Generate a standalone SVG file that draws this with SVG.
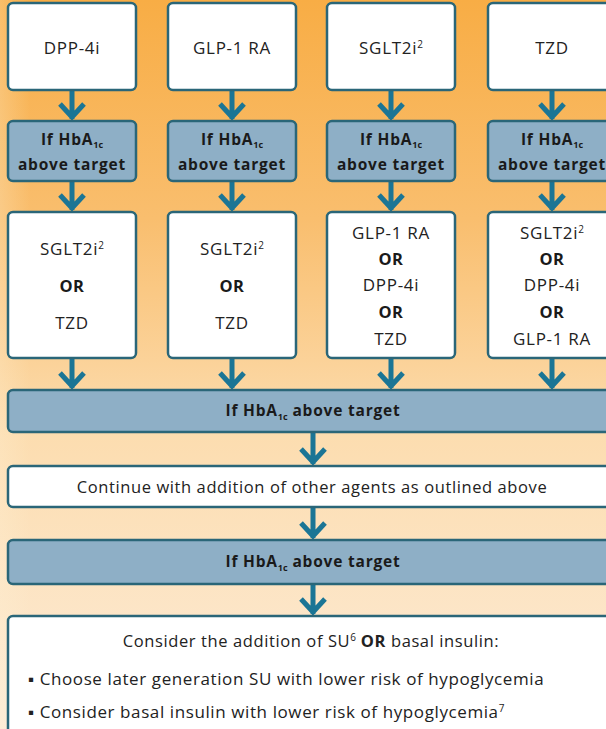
<svg xmlns="http://www.w3.org/2000/svg" width="606" height="729" viewBox="0 0 606 729">
  <defs>
    <linearGradient id="bg" x1="0" y1="0" x2="0" y2="1">
      <stop offset="0" stop-color="#F8AD45"/>
      <stop offset="0.3" stop-color="#F9BE6E"/>
      <stop offset="0.6" stop-color="#FCDDB0"/>
      <stop offset="1" stop-color="#FDEBD6"/>
    </linearGradient>
    <linearGradient id="edge" x1="0" y1="0" x2="1" y2="0">
      <stop offset="0" stop-color="#FFF3D8" stop-opacity="0.25"/>
      <stop offset="0.05" stop-color="#FFF3D8" stop-opacity="0"/>
    </linearGradient>
    <style>
      .white { fill: #FFFFFF; stroke: #2A6678; stroke-width: 2.5; }
      .blue { fill: #8EAFC6; stroke: #2A6678; stroke-width: 2.5; }
      .t { font-family: "Open Sans", "Liberation Sans", sans-serif; font-size: 17px; letter-spacing: 0.7px; fill: #222222; text-anchor: middle; }
      .m { font-family: "Open Sans", "Liberation Sans", sans-serif; font-size: 16.5px; letter-spacing: 0.6px; fill: #222222; text-anchor: middle; }
      .b { font-family: "Open Sans", "Liberation Sans", sans-serif; font-weight: 700; font-size: 15.5px; letter-spacing: 0.8px; fill: #1A1A1A; text-anchor: middle; }
      .o { font-family: "Open Sans", "Liberation Sans", sans-serif; font-weight: 700; font-size: 16.5px; letter-spacing: 0.6px; fill: #1A1A1A; text-anchor: middle; }
      .l { font-family: "Open Sans", "Liberation Sans", sans-serif; font-size: 17px; letter-spacing: 0.6px; fill: #222222; }
      .sub { font-size: 9px; letter-spacing: 0; }
      .sup { font-size: 10px; letter-spacing: 0; }
      .arrow { fill: none; stroke: #1B7595; stroke-width: 5; }
    </style>
  </defs>

  <!-- background -->
  <rect x="0" y="0" width="606" height="729" fill="url(#bg)"/>
  <rect x="0" y="0" width="606" height="729" fill="url(#edge)"/>

  <!-- connectors -->
  <g id="connectors" class="arrow">
    <!-- top row to first check -->
    <path d="M72 90V119M60 104L72 117L84 104"/>
    <path d="M232 90V119M220 104L232 117L244 104"/>
    <path d="M391 90V119M379 104L391 117L403 104"/>
    <path d="M552 90V119M540 104L552 117L564 104"/>
    <!-- first check to second-line options -->
    <path d="M72 181V210M60 195L72 208L84 195"/>
    <path d="M232 181V210M220 195L232 208L244 195"/>
    <path d="M391 181V210M379 195L391 208L403 195"/>
    <path d="M552 181V210M540 195L552 208L564 195"/>
    <!-- options to combined check -->
    <path d="M72 358V388M60 373L72 386L84 373"/>
    <path d="M232 358V388M220 373L232 386L244 373"/>
    <path d="M391 358V388M379 373L391 386L403 373"/>
    <path d="M552 358V388M540 373L552 386L564 373"/>
    <!-- central spine -->
    <path d="M313 432V464M301 449L313 462L325 449"/>
    <path d="M313 507V538M301 523L313 536L325 523"/>
    <path d="M313 584V614M301 599L313 612L325 599"/>
  </g>

  <!-- first-line agents -->
  <g id="dpp4i">
    <rect class="white" x="8" y="3" width="128" height="87" rx="5"/>
    <text class="t" x="72" y="54">DPP-4i</text>
  </g>
  <g id="glp1ra">
    <rect class="white" x="168" y="3" width="128" height="87" rx="5"/>
    <text class="t" x="232" y="54">GLP-1 RA</text>
  </g>
  <g id="sglt2i">
    <rect class="white" x="327" y="3" width="128" height="87" rx="5"/>
    <text class="t" x="391" y="54">SGLT2i<tspan class="sup" dy="-6">2</tspan></text>
  </g>
  <g id="tzd">
    <rect class="white" x="488" y="3" width="130" height="87" rx="5"/>
    <text class="t" x="552" y="54">TZD</text>
  </g>

  <!-- per-column HbA1c checks -->
  <g id="check1">
    <rect class="blue" x="8" y="121" width="128" height="60" rx="5"/>
    <text class="b" x="72" y="145">If HbA<tspan class="sub" dy="3">1c</tspan></text>
    <text class="b" x="72" y="170">above target</text>
  </g>
  <g id="check2">
    <rect class="blue" x="168" y="121" width="128" height="60" rx="5"/>
    <text class="b" x="232" y="145">If HbA<tspan class="sub" dy="3">1c</tspan></text>
    <text class="b" x="232" y="170">above target</text>
  </g>
  <g id="check3">
    <rect class="blue" x="327" y="121" width="128" height="60" rx="5"/>
    <text class="b" x="391" y="145">If HbA<tspan class="sub" dy="3">1c</tspan></text>
    <text class="b" x="391" y="170">above target</text>
  </g>
  <g id="check4">
    <rect class="blue" x="488" y="121" width="130" height="60" rx="5"/>
    <text class="b" x="552" y="145">If HbA<tspan class="sub" dy="3">1c</tspan></text>
    <text class="b" x="552" y="170">above target</text>
  </g>

  <!-- second-line options -->
  <g id="options1">
    <rect class="white" x="8" y="212" width="128" height="146" rx="5"/>
    <text class="t" x="72" y="255">SGLT2i<tspan class="sup" dy="-6">2</tspan></text>
    <text class="o" x="72" y="292">OR</text>
    <text class="t" x="72" y="329">TZD</text>
  </g>
  <g id="options2">
    <rect class="white" x="168" y="212" width="128" height="146" rx="5"/>
    <text class="t" x="232" y="255">SGLT2i<tspan class="sup" dy="-6">2</tspan></text>
    <text class="o" x="232" y="292">OR</text>
    <text class="t" x="232" y="329">TZD</text>
  </g>
  <g id="options3">
    <rect class="white" x="327" y="212" width="128" height="146" rx="5"/>
    <text class="t" x="391" y="239">GLP-1 RA</text>
    <text class="o" x="391" y="265">OR</text>
    <text class="t" x="391" y="291">DPP-4i</text>
    <text class="o" x="391" y="318">OR</text>
    <text class="t" x="391" y="345">TZD</text>
  </g>
  <g id="options4">
    <rect class="white" x="488" y="212" width="130" height="146" rx="5"/>
    <text class="t" x="552" y="239">SGLT2i<tspan class="sup" dy="-6">2</tspan></text>
    <text class="o" x="552" y="265">OR</text>
    <text class="t" x="552" y="291">DPP-4i</text>
    <text class="o" x="552" y="318">OR</text>
    <text class="t" x="552" y="345">GLP-1 RA</text>
  </g>

  <!-- combined checks and later steps -->
  <g id="check-combined">
    <rect class="blue" x="8" y="390" width="612" height="42" rx="5"/>
    <text class="b" x="313" y="416">If HbA<tspan class="sub" dy="4">1c</tspan><tspan dy="-4"> above target</tspan></text>
  </g>
  <g id="continue">
    <rect class="white" x="8" y="466" width="612" height="41" rx="5"/>
    <text class="m" x="312" y="493">Continue with addition of other agents as outlined above</text>
  </g>
  <g id="check-final">
    <rect class="blue" x="8" y="540" width="612" height="44" rx="5"/>
    <text class="b" x="313" y="567">If HbA<tspan class="sub" dy="4">1c</tspan><tspan dy="-4"> above target</tspan></text>
  </g>
  <g id="su-or-insulin">
    <rect class="white" x="8" y="616" width="612" height="130" rx="5"/>
    <text class="m" x="311" y="647">Consider the addition of SU<tspan class="sup" dy="-6">6</tspan><tspan dy="6" font-weight="700"> OR</tspan> basal insulin:</text>
    <text class="l" x="28" y="685">▪ Choose later generation SU with lower risk of hypoglycemia</text>
    <text class="l" x="28" y="718">▪ Consider basal insulin with lower risk of hypoglycemia<tspan class="sup" dy="-6">7</tspan></text>
  </g>
</svg>
